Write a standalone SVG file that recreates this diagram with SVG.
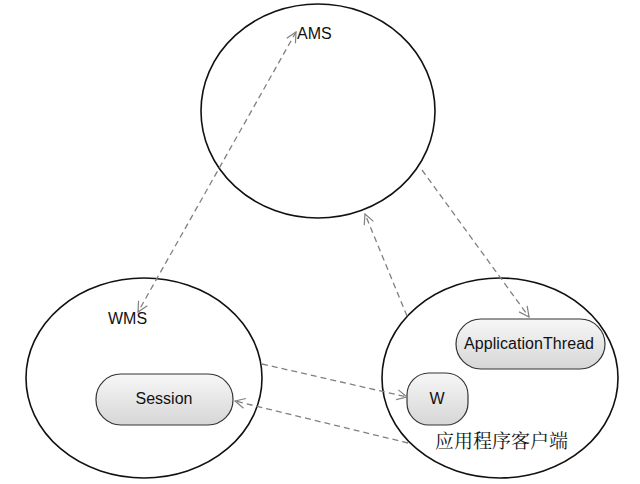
<svg xmlns="http://www.w3.org/2000/svg" width="640" height="484" viewBox="0 0 640 484">
<defs>
<linearGradient id="g" x1="0" y1="0" x2="0" y2="1">
<stop offset="0" stop-color="#f7f7f7"/>
<stop offset="1" stop-color="#d6d6d6"/>
</linearGradient>
<marker id="a" viewBox="0 0 12 12" refX="11" refY="6" markerWidth="12" markerHeight="12" markerUnits="userSpaceOnUse" orient="auto-start-reverse">
<path d="M1,1 L11,6 L1,11" fill="none" stroke="#808080" stroke-width="1.2"/>
</marker>
</defs>
<style>
.big{fill:#fff;stroke:#111;stroke-width:1.6}
.box{fill:url(#g);stroke:#333;stroke-width:1.2}
.t{font-family:"Liberation Sans",Arial,sans-serif;font-size:16px;fill:#111}
.c{stroke:#808080;stroke-width:1.3;stroke-dasharray:6 4;fill:none;marker-end:url(#a)}
</style>
<rect width="640" height="484" fill="#fff"/>
<g id="ams">
<ellipse class="big" cx="318" cy="111" rx="117" ry="107"/>
<text class="t" x="297" y="39" font-size="15">AMS</text>
</g>
<g id="wms">
<ellipse class="big" cx="144" cy="378" rx="118" ry="100"/>
<text class="t" x="108" y="324">WMS</text>
</g>
<g id="client">
<ellipse class="big" cx="500" cy="378" rx="118" ry="100"/>
<text x="435" y="448" font-family="'Noto Serif CJK SC','Noto Sans CJK SC',serif" font-size="19" fill="#111">应用程序客户端</text>
</g>
<g id="session">
<rect class="box" x="96" y="374" width="137" height="51" rx="25"/>
<text class="t" x="164" y="404" text-anchor="middle">Session</text>
</g>
<g id="appthread">
<rect class="box" x="456" y="319" width="149" height="50" rx="25"/>
<text class="t" x="529" y="349" text-anchor="middle" textLength="130">ApplicationThread</text>
</g>
<g id="w">
<rect class="box" x="407" y="373" width="61" height="52" rx="22"/>
<text class="t" x="437" y="404" text-anchor="middle">W</text>
</g>
<g id="connectors">
<path class="c" d="M296,32 L138,312" marker-start="url(#a)"/>
<path class="c" d="M407,316 L365,214"/>
<path class="c" d="M422,170 L529,317"/>
<path class="c" d="M262,364 L407,397"/>
<path class="c" d="M408,443 L235,401"/>
</g>
</svg>
